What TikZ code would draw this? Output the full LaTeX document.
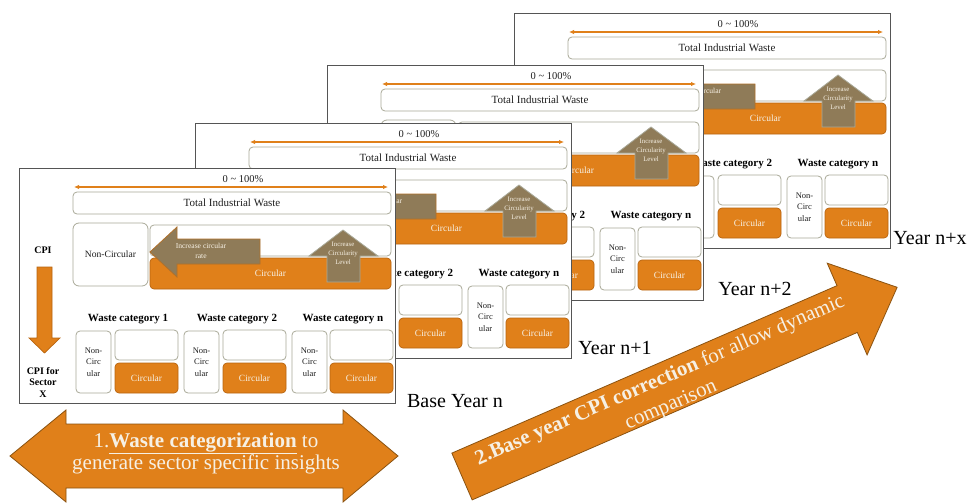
\documentclass[tikz,border=0pt]{standalone}
\usepackage{fontspec}
\setmainfont{Liberation Serif}
\usetikzlibrary{arrows.meta}
\definecolor{orfill}{HTML}{E0801A}
\definecolor{ordraw}{HTML}{B8640F}
\definecolor{brfill}{HTML}{8F7B58}
\definecolor{brdraw}{HTML}{B0702A}
\definecolor{boxline}{HTML}{A9A998}
\definecolor{cardline}{HTML}{555555}
\definecolor{paletext}{HTML}{F6F0E4}
\definecolor{bigdraw}{HTML}{8A5210}
\tikzset{
  cardframe/.style={draw=cardline, fill=white, line width=0.9pt, inner sep=0pt, outer sep=0pt},
  wbox/.style={draw=boxline, fill=white, rounded corners=4pt, line width=0.8pt, inner sep=0pt, outer sep=0pt, align=center, text=black!88, font=\fontsize{11}{12}\selectfont},
  ncbig/.style={wbox, rounded corners=6pt, font=\fontsize{9.6}{11}\selectfont},
  ncsmall/.style={wbox, font=\fontsize{8.5}{11.6}\selectfont},
  obox/.style={draw=ordraw, fill=orfill, rounded corners=4pt, line width=0.7pt, inner sep=0pt, outer sep=0pt, align=center, text=paletext, font=\fontsize{9.5}{11}\selectfont},
  rangearrow/.style={draw=orfill, line width=1.2pt, {Latex[length=5pt,width=4.5pt]}-{Latex[length=5pt,width=4.5pt]}},
  brarrowL/.style={fill=brfill, draw=brdraw, line width=0.8pt},
  brarrowU/.style={fill=brfill, draw=boxline, line width=0.8pt},
  arrtext/.style={text=paletext, align=center, inner sep=0pt, font=\fontsize{7.6}{10}\selectfont},
  arrtextsm/.style={text=paletext, align=center, inner sep=0pt, font=\fontsize{6.8}{9}\selectfont},
  pct/.style={inner sep=0pt, text=black!88, font=\fontsize{10.5}{12}\selectfont},
  catlabel/.style={inner sep=0pt, text=black, font=\fontsize{11}{12}\selectfont\bfseries},
  cpilabel/.style={inner sep=0pt, text=black, align=center, font=\fontsize{10}{11.5}\selectfont\bfseries},
  orarrow/.style={fill=orfill, draw=ordraw, line width=0.7pt},
  yearlabel/.style={inner sep=0pt, text=black, font=\fontsize{20}{24}\selectfont},
  bigarrow/.style={fill=orfill, draw=bigdraw, line width=0.8pt},
  bigtext/.style={inner sep=0pt, text=paletext, align=center, font=\fontsize{21}{22}\selectfont}
}
\newcommand\bx[7]{\node[#1, anchor=north west, minimum width=#5pt, minimum height=#6pt] (#2) at (#3,#4) {#7};}
% #5 = 1 when the texts of this category are visible
\newcommand\wcat[5]{%
  \ifnum#5=1
    \bx{ncsmall}{#1nc#2}{#3}{163}{35}{62}{Non-\\Circ\\ular}
  \else
    \bx{ncsmall}{#1nc#2}{#3}{163}{35}{62}{}
  \fi
  \bx{wbox}{#1ub#2}{#4}{162}{63}{30}{}
  \bx{obox}{#1cb#2}{#4}{195}{63}{30}{Circular}}
% #4 = 1 for the front card, 0 for a card partly hidden behind another
% #5 = 1 when the "Increase circular rate" text is visible
\newcommand\wastecard[5]{%
  \begin{scope}[shift={(#1,#2)}]
    \bx{cardframe}{#3card}{0}{0}{376}{235}{}
    \node[pct] (#3pct) at (224,11) {0 \textasciitilde{} 100\%};
    \coordinate (#3rl) at (55,19);
    \coordinate (#3rr) at (369,19);
    \draw[rangearrow] (#3rl) -- (#3rr);
    \bx{wbox}{#3tiw}{54}{24}{318}{22}{Total Industrial Waste}
    \ifnum#4=1
      \bx{ncbig}{#3nc}{54}{55}{75}{63}{Non-Circular}
    \else
      \bx{ncbig}{#3nc}{54}{55}{75}{63}{}
    \fi
    \bx{wbox}{#3up}{131}{57}{241}{31}{}
    \bx{obox}{#3circ}{131}{90}{241}{31}{Circular}
    \draw[brarrowL] (131,84) -- (158,59) -- (158,71) -- (241,71) -- (241,96) -- (158,96) -- (158,109) -- cycle;
    \ifnum#5=1
      \node[arrtext] (#3inc) at (182,83) {Increase circular\\rate};
    \fi
    \draw[brarrowU] (324,62) -- (359,88) -- (341,88) -- (341,114) -- (308,114) -- (308,88) -- (290,88) -- cycle;
    \node[arrtextsm] (#3lvl) at (324,85) {Increase\\Circularity\\Level};
    \draw[orarrow] (18,99) -- (33,99) -- (33,170) -- (41,170) -- (25.5,185) -- (10,170) -- (18,170) -- cycle;
    \ifnum#4=1
      \node[cpilabel] (#3cpi) at (24,82) {CPI};
      \node[cpilabel] (#3cpix) at (24,214) {CPI for\\Sector\\X};
      \node[catlabel] (#3cat1) at (109,151) {Waste category 1};
    \fi
    \node[catlabel] (#3cat2) at (218,151) {Waste category 2};
    \node[catlabel] (#3catn) at (324,151) {Waste category n};
    \wcat{#3}{1}{57}{96}{#4}
    \wcat{#3}{2}{165}{204}{#4}
    \wcat{#3}{n}{273}{311}{1}
  \end{scope}}
\begin{document}
\begin{tikzpicture}[x=1pt,y=-1pt]
  \useasboundingbox (0,0) rectangle (969,503);
  \fill[white] (0,0) rectangle (969,503);
  \wastecard{514}{13}{d}{0}{1}
  \wastecard{327}{65}{c}{0}{0}
  \wastecard{195}{123}{b}{0}{1}
  \wastecard{19}{168}{a}{1}{1}
  \node[yearlabel] (ybase) at (455,401) {Base Year n};
  \node[yearlabel] (y1) at (615,348) {Year n+1};
  \node[yearlabel] (y2) at (755,289) {Year n+2};
  \node[yearlabel] (yx) at (930,238) {Year n+x};
  % bottom double arrow
  \draw[bigarrow] (10,456) -- (66,410) -- (66,424) -- (343,424) -- (343,410) -- (398,456) -- (343,502) -- (343,488) -- (66,488) -- (66,502) -- cycle;
  \node[bigtext] (t1) at (206,453.5) {1.\textbf{\underline{Waste categorization}} to\\generate sector specific insights};
  % diagonal arrow
  \begin{scope}[shift={(462,476.5)}, rotate=23.5]
    \draw[bigarrow] (0,-25.5) -- (420,-25.5) -- (420,-50) -- (474.5,0) -- (420,50) -- (420,25.5) -- (0,25.5) -- cycle;
    \node[bigtext, rotate=23.5] (t2) at (220,4.5) {\textbf{2.Base year CPI correction} for allow dynamic\\[5pt]comparison};
  \end{scope}
\end{tikzpicture}
\end{document}
